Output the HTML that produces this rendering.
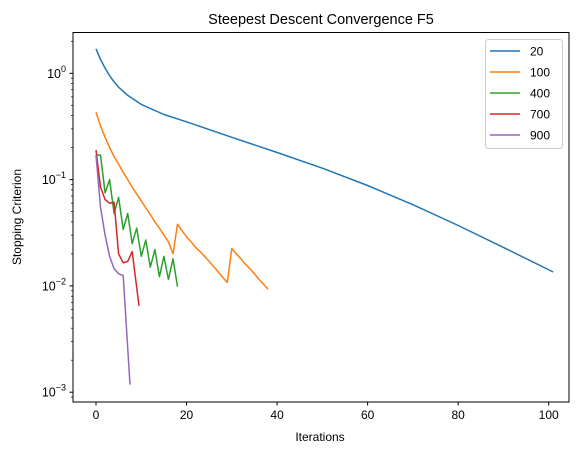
<!DOCTYPE html>
<html><head><meta charset="utf-8"><style>
body{margin:0;background:#fff;}
svg{display:block;font-family:"Liberation Sans","DejaVu Sans",sans-serif;}
</style></head><body>
<svg id="chart" width="578" height="455">
<rect width="578" height="455" fill="#fff"/>
<text x="321" y="24" font-size="14.5" text-anchor="middle">Steepest Descent Convergence F5</text>
<g id="series"></g>
<rect x="73" y="32.5" width="496" height="369.5" fill="none" stroke="#000" stroke-width="1"/>
<g id="axes"></g>
<text x="320" y="441" font-size="12" text-anchor="middle">Iterations</text>
<text transform="translate(21,217) rotate(-90)" font-size="12" text-anchor="middle">Stopping Criterion</text>
<g id="legend"></g>
</svg>
<script>
const labels=["20","100","400","700","900"];
const colors=["#1f77b4","#ff7f0e","#2ca02c","#d62728","#9467bd"];
const s20x=[0,1,2,3,4,5,7,10,15,20,30,40,50,60,70,80,90,101];
const s20y=[1.7,1.35,1.12,0.95,0.83,0.74,0.62,0.51,0.41,0.35,0.25,0.18,0.128,0.088,0.058,0.037,0.023,0.0135];
const s100x=[0,1,2,3,4,5,6,7,8,9,10,11,12,13,14,15,16,17,18,19,20,21,22,23,24,25,26,27,28,29,30,31,32,33,34,35,36,37,38];
const s100y=[0.43,0.32,0.25,0.2,0.165,0.14,0.117,0.1,0.085,0.073,0.063,0.054,0.047,0.04,0.035,0.03,0.026,0.02,0.038,0.033,0.029,0.026,0.023,0.021,0.019,0.017,0.0152,0.0135,0.012,0.0108,0.0225,0.02,0.018,0.016,0.0145,0.013,0.0115,0.0104,0.0093];
const s400x=[0,1,2,3,4,5,6,7,8,9,10,11,12,13,14,15,16,17,18];
const s400y=[0.17,0.17,0.075,0.1,0.048,0.068,0.034,0.048,0.025,0.035,0.019,0.027,0.015,0.022,0.0122,0.019,0.0115,0.018,0.0098];
const s700x=[0,1,2,3,4,5,6,7,8,9.5];
const s700y=[0.19,0.085,0.065,0.06,0.061,0.02,0.0165,0.017,0.021,0.0065];
const s900x=[0,1,2,3,4,5,6,7.5];
const s900y=[0.17,0.055,0.03,0.019,0.0145,0.013,0.0125,0.00118];
const xTicks=[0,20,40,60,80,100];
const yTicks=[0,-1,-2,-3];
const NS="http://www.w3.org/2000/svg";
const X=v=>96+v*4.527;
const Y=v=>73.3-Math.log10(v)*106.3;
function mk(t,a,p){const e=document.createElementNS(NS,t);for(const k in a)e.setAttribute(k,a[k]);p.appendChild(e);return e;}
const sg=document.getElementById('series');
const xs=[s20x,s100x,s400x,s700x,s900x],ys=[s20y,s100y,s400y,s700y,s900y];
xs.forEach((xa,i)=>{
 const d=xa.map((x,j)=>(j?'L':'M')+X(x).toFixed(1)+','+Y(ys[i][j]).toFixed(1)).join(' ');
 const p=mk('path',{d:d,fill:'none',stroke:colors[i],'stroke-width':1.5,'stroke-linejoin':'round'},sg);
 
 
});
const ax=document.getElementById('axes');
xTicks.forEach(t=>{
 const l=mk('line',{x1:X(t),x2:X(t),y1:402,y2:405.5,stroke:'#000'},ax);
 
 
 const tx=mk('text',{x:X(t),y:419,'font-size':12,'text-anchor':'middle'},ax);tx.textContent=t;
 
 
});
yTicks.forEach(t=>{
 const y=73.3-t*106.3;
 const l=mk('line',{x1:69.5,x2:73,y1:y,y2:y,stroke:'#000'},ax);
 
 
 const tx=mk('text',{x:66,y:y+4.5,'font-size':12.5,'text-anchor':'end'},ax);
 
 
 tx.appendChild(document.createTextNode('10'));
 const sp=mk('tspan',{dy:-6,'font-size':9},tx);sp.textContent=t===0?'0':'\u2212'+(-t);
});
for(let e=-4;e<=0;e++)for(let m=2;m<=9;m++){const v=m*Math.pow(10,e),y=Y(v);if(y<33||y>401)continue;
 const l=mk('line',{x1:71,x2:73,y1:y,y2:y,stroke:'#000','stroke-width':0.7},ax);
 
 }
const lg=document.getElementById('legend');
const bx=mk('rect',{x:485.5,y:39.5,width:77,height:109,rx:3,fill:'#fff','fill-opacity':0.8,stroke:'#ccc'},lg);


labels.forEach((lb,i)=>{const y=51+i*21;
 const l=mk('line',{x1:490,x2:520,y1:y,y2:y,stroke:colors[i],'stroke-width':1.5},lg);
 
 
 const t=mk('text',{x:530,y:y+4.5,'font-size':12},lg);t.textContent=lb;
 
 
});
</script>
</body></html>
